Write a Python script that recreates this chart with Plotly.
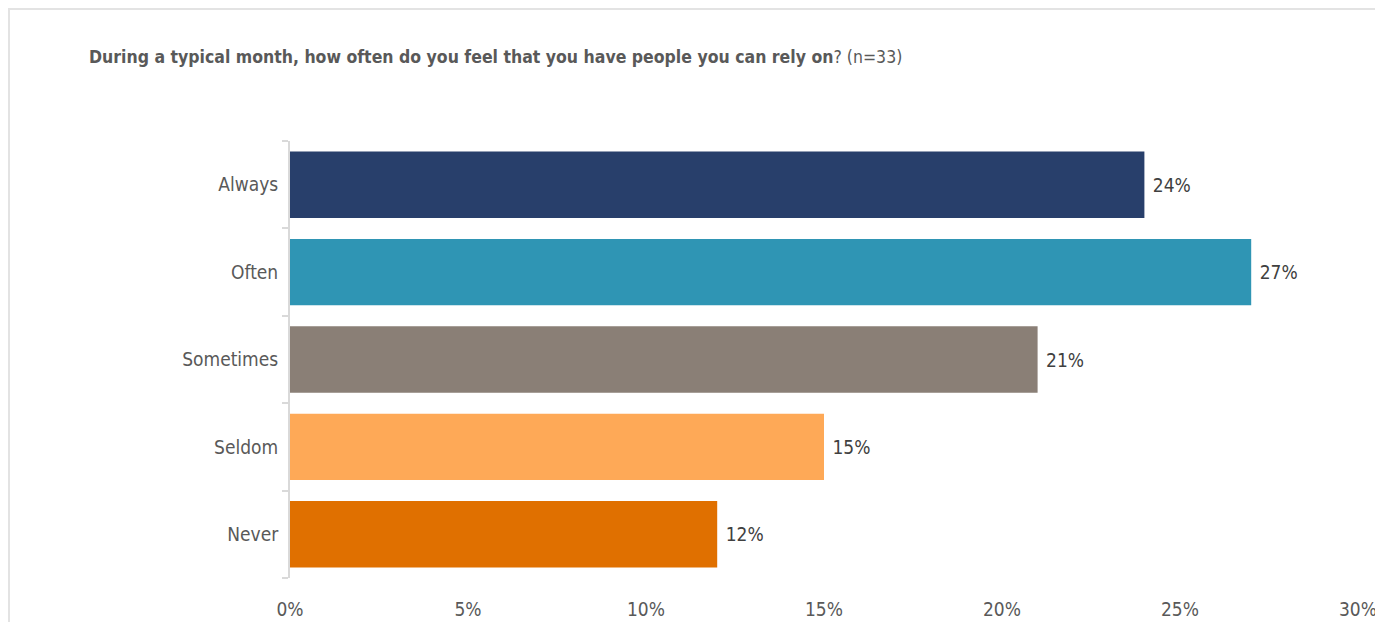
import plotly.graph_objects as go

# Survey responses (share of respondents)
categories = ["Always", "Often", "Sometimes", "Seldom", "Never"]
shares = [24, 27, 21, 15, 12]
bar_colors = ["#283F6B", "#2F95B4", "#8A7F76", "#FEA957", "#E07000"]
x_ticks = [0, 5, 10, 15, 20, 25, 30]
x_tick_labels = [f"{v}%" for v in x_ticks]

narrow = "Liberation Sans Narrow, Arial Narrow, DejaVu Sans Condensed, sans-serif"

fig = go.Figure(
    go.Bar(
        y=categories,
        x=shares,
        orientation="h",
        marker=dict(color=bar_colors, line=dict(width=0)),
        text=[f" {v}%" for v in shares],
        textposition="outside",
        textfont=dict(family=narrow, size=19, color="#404040"),
        cliponaxis=False,
        width=0.76,
        hoverinfo="skip",
    )
)

W, H = 1375, 622
L, R, T, B = 290, 17, 141, 44
pw, ph = W - L - R, H - T - B

# light frame around the chart
fig.add_shape(
    type="rect", xref="paper", yref="paper",
    x0=(9 - L) / pw, x1=1.2, y0=-0.3, y1=1 + (T - 9) / ph,
    line=dict(color="#E3E3E3", width=2), fillcolor="rgba(0,0,0,0)", layer="below",
)

fig.add_annotation(
    xref="paper", yref="paper",
    x=(87 - L) / pw, y=1 + (T - 57) / ph,
    xanchor="left", yanchor="middle", showarrow=False,
    text="<b>During a typical month, how often do you feel that you have people you can rely on</b>? (n=33)",
    font=dict(family=narrow, size=17.5, color="#595959"),
)

fig.update_layout(
    width=W, height=H,
    margin=dict(l=L, r=R, t=T, b=B, autoexpand=False),
    paper_bgcolor="white", plot_bgcolor="white",
    showlegend=False,
    xaxis=dict(
        range=[0, 30], tickvals=x_ticks, ticktext=x_tick_labels,
        showgrid=False, zeroline=False, showline=False, ticks="",
        tickfont=dict(family=narrow, size=19, color="#595959"),
        ticklabelstandoff=18, ticklabeloverflow="allow", fixedrange=True,
    ),
    yaxis=dict(
        categoryorder="array", categoryarray=categories[::-1],
        showgrid=False, zeroline=False,
        showline=True, linecolor="#D9D9D9", linewidth=2,
        ticks="outside", tickson="boundaries", ticklen=6, tickcolor="#D9D9D9", tickwidth=2,
        tickfont=dict(family=narrow, size=19, color="#595959"),
        ticklabelstandoff=6, fixedrange=True,
    ),
)

fig.write_html("out.html")
